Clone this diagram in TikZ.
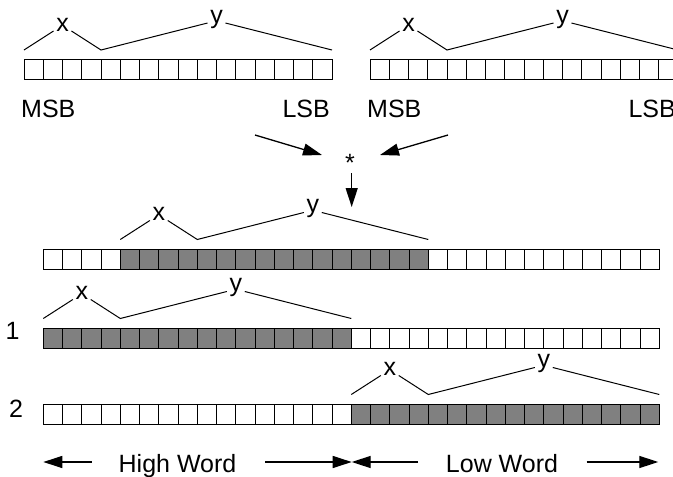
\documentclass[tikz,border=0pt]{standalone}
\usepackage{fontspec}
\setmainfont{Liberation Sans}
\usetikzlibrary{arrows.meta}
\definecolor{cellgray}{RGB}{128,128,128}
\newcommand\mybitbrace[3]{%
  \coordinate (#1A) at (#2,#3);
  \coordinate (#1B) at ({#2+77},#3);
  \coordinate (#1C) at ({#2+308},#3);
  \node[brlbl] (#1x) at ({#2+38.5},{#3-19}) {x};
  \node[brlbl] (#1y) at ({#2+192.5},{#3-27}) {y};
  \draw[brace] (#1A) -- (#1x.base west);
  \draw[brace] (#1x.base east) -- (#1B) -- (#1y.base west);
  \draw[brace] (#1y.base east) -- (#1C);
}
\begin{document}
\begin{tikzpicture}[x=1pt,y=-1pt,
  lbl/.style={font=\fontsize{25}{30}\selectfont, inner sep=0pt},
  brlbl/.style={lbl, inner xsep=2.5pt, inner ysep=0pt, anchor=base},
  brace/.style={line width=1pt},
  arr/.style={line width=1.3pt, -{Triangle[length=19pt,width=12pt]}},
  cellw/.style={draw, line width=1pt, fill=white},
  cellg/.style={draw, line width=1pt, fill=cellgray},
]
\useasboundingbox (0,0) rectangle (673,477);
\clip (0,0) rectangle (673,477);

% top registers
\foreach \i in {0,...,15} \draw[cellw] ({24+\i*19.25},59) rectangle ++(19.25,20);
\foreach \i in {0,...,15} \draw[cellw] ({370+\i*19.25},59) rectangle ++(19.25,20);
\mybitbrace{tl}{24}{50}
\mybitbrace{tr}{370}{50}
\node[lbl, anchor=base west] (msbL) at (21,117) {MSB};
\node[lbl, anchor=base east] (lsbL) at (330,117) {LSB};
\node[lbl, anchor=base west] (msbR) at (367,117) {MSB};
\node[lbl, anchor=base east] (lsbR) at (676,117) {LSB};

% multiplication
\node[lbl, anchor=base] (star) at (350,171) {*};
\coordinate (inL) at (255,135);
\coordinate (tipL) at (322,155);
\coordinate (inR) at (448,135);
\coordinate (tipR) at (380,155);
\coordinate (outS) at (351.7,173);
\coordinate (outT) at (351.7,207);
\draw[arr] (inL) -- (tipL);
\draw[arr] (inR) -- (tipR);
\draw[arr] (outS) -- (outT);

% row 0
\foreach \i in {0,...,3} \draw[cellw] ({43.3+\i*19.25},249) rectangle ++(19.25,20);
\foreach \i in {4,...,19} \draw[cellg] ({43.3+\i*19.25},249) rectangle ++(19.25,20);
\foreach \i in {20,...,31} \draw[cellw] ({43.3+\i*19.25},249) rectangle ++(19.25,20);
\mybitbrace{ra}{120.3}{239.5}

% row 1
\foreach \i in {0,...,15} \draw[cellg] ({43.3+\i*19.25},328) rectangle ++(19.25,20);
\foreach \i in {16,...,31} \draw[cellw] ({43.3+\i*19.25},328) rectangle ++(19.25,20);
\mybitbrace{rb}{43.3}{318.5}
\node[lbl, anchor=base west] (one) at (5.5,339) {1};

% row 2
\foreach \i in {0,...,15} \draw[cellw] ({43.3+\i*19.25},404) rectangle ++(19.25,20);
\foreach \i in {16,...,31} \draw[cellg] ({43.3+\i*19.25},404) rectangle ++(19.25,20);
\mybitbrace{rc}{351.3}{394.5}
\node[lbl, anchor=base west] (two) at (9,417) {2};

% word labels
\node[lbl, anchor=base] (hw) at (177.5,472) {High Word};
\node[lbl, anchor=base] (lw) at (502,472) {Low Word};
\coordinate (hwA) at (91.7,462);
\coordinate (hwAt) at (43.3,462);
\coordinate (hwB) at (265,462);
\coordinate (hwBt) at (351.7,462);
\coordinate (lwA) at (418,462);
\coordinate (lwAt) at (351.7,462);
\coordinate (lwB) at (586.7,462);
\coordinate (lwBt) at (658.3,462);
\draw[arr] (hwA) -- (hwAt);
\draw[arr] (hwB) -- (hwBt);
\draw[arr] (lwA) -- (lwAt);
\draw[arr] (lwB) -- (lwBt);
\end{tikzpicture}
\end{document}
